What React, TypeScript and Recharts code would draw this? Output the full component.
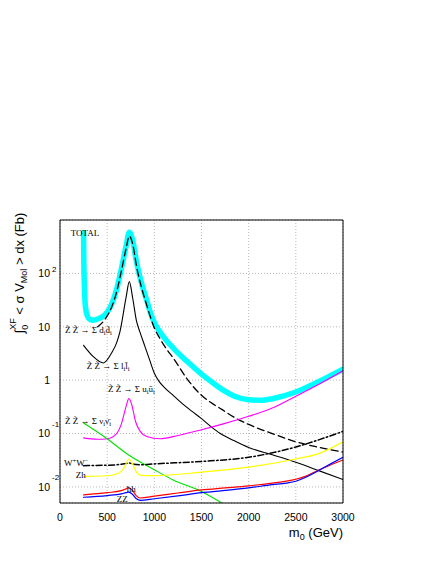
import React from 'react';
import { LineChart, Line, XAxis, YAxis, CartesianGrid, ReferenceDot } from 'recharts';

// m0 (GeV) , integral of <sigma v> (fb)
const total: [number, number][] = [
  [250, 580], [251, 330], [253, 150], [257, 70], [263, 35], [272, 22], [290, 16], [318, 13.7],
  [350, 13.3], [400, 14], [480, 17], [550, 27], [600, 50], [650, 120], [700, 320], [735, 590],
  [770, 420], [812, 160], [870, 60], [918, 32], [960, 18], [1000, 12], [1060, 8], [1130, 5.5],
  [1200, 4.0], [1340, 2.3], [1500, 1.3], [1600, 0.95], [1730, 0.65], [1850, 0.5], [2000, 0.43],
  [2125, 0.42], [2250, 0.45], [2500, 0.6], [2750, 0.95], [3000, 1.6],
];
const dd: [number, number][] = [
  [400, 10], [480, 14], [550, 24], [600, 45], [650, 110], [700, 290], [735, 500], [770, 360],
  [812, 135], [870, 50], [918, 26], [960, 15], [1000, 9.5], [1060, 6], [1130, 3.8], [1200, 2.6],
  [1340, 1.1], [1500, 0.52], [1600, 0.38], [1720, 0.28], [1850, 0.2], [2000, 0.148], [2250, 0.1],
  [2500, 0.07], [2750, 0.055], [3000, 0.045],
];
const ll: [number, number][] = [
  [250, 4.5], [350, 2.8], [460, 2.1], [550, 3.3], [600, 5], [635, 8], [700, 35], [735, 70],
  [770, 35], [810, 13], [847, 8], [900, 4.3], [950, 2.4], [1000, 1.35], [1050, 0.95], [1100, 0.75],
  [1200, 0.52], [1300, 0.36], [1400, 0.26], [1500, 0.19], [1600, 0.135], [1700, 0.1], [1850, 0.073],
  [2000, 0.055], [2250, 0.04], [2500, 0.029], [2750, 0.02], [3000, 0.0138],
];
const uu: [number, number][] = [
  [250, 0.083], [400, 0.078], [500, 0.08], [600, 0.1], [650, 0.15], [700, 0.32], [730, 0.45],
  [760, 0.35], [800, 0.17], [850, 0.11], [920, 0.088], [1060, 0.08], [1250, 0.092], [1500, 0.118],
  [1750, 0.155], [2000, 0.21], [2250, 0.3], [2500, 0.5], [2750, 0.85], [3000, 1.5],
];
const nunu: [number, number][] = [
  [250, 0.158], [500, 0.08], [724, 0.04], [1000, 0.021], [1200, 0.0135], [1500, 0.0082], [1715, 0.005],
];
const ww: [number, number][] = [
  [250, 0.025], [600, 0.026], [700, 0.0275], [735, 0.028], [780, 0.0265], [850, 0.026],
  [1000, 0.027], [1500, 0.03], [2000, 0.036], [2500, 0.056], [2750, 0.077], [3000, 0.11],
];
const zh: [number, number][] = [
  [250, 0.0158], [500, 0.0162], [620, 0.018], [680, 0.023], [730, 0.033], [770, 0.027],
  [810, 0.019], [860, 0.0165], [1000, 0.0163], [1500, 0.0189], [2000, 0.0234], [2500, 0.0334],
  [2750, 0.0425], [3000, 0.07],
];
const hh: [number, number][] = [
  [250, 0.0071], [500, 0.0078], [650, 0.0085], [700, 0.0092], [730, 0.0097], [770, 0.0085],
  [810, 0.0068], [850, 0.0062], [1000, 0.0067], [1250, 0.0077], [1500, 0.0088], [1750, 0.0096],
  [2000, 0.0105], [2250, 0.0118], [2400, 0.0128], [2500, 0.0139], [2600, 0.0158], [2700, 0.019],
  [2850, 0.025], [3000, 0.032],
];
const zz: [number, number][] = [
  [250, 0.0064], [500, 0.0069], [650, 0.0074], [700, 0.0078], [730, 0.008], [770, 0.0072],
  [810, 0.006], [850, 0.0056], [1000, 0.006], [1250, 0.0068], [1500, 0.0078], [1750, 0.0086],
  [2000, 0.0096], [2250, 0.011], [2400, 0.0118], [2500, 0.0128], [2600, 0.015], [2700, 0.0185],
  [2850, 0.026], [3000, 0.036],
];

const xMajor = [0, 500, 1000, 1500, 2000, 2500, 3000];
const yMajor = [0.01, 0.1, 1, 10, 100];

const xMinor: number[] = [];
for (let m = 100; m < 3000; m += 100) if (m % 500) xMinor.push(m);
const yMinor: number[] = [];
for (let e = -3; e <= 2; e++) for (let k = 2; k <= 9; k++) {
  const v = +(k * Math.pow(10, e)).toPrecision(3);
  if (v > 0.005 && v < 1000) yMinor.push(v);
}

const SANS = '"Liberation Sans", Arial, sans-serif';
const SERIF = '"Liberation Serif", "Times New Roman", serif';

type Part = [string, 'n' | 'sub' | 'sup'];
const zt = 'Z\u0303';
// curve labels: where they sit (m0, value) and their text pieces
const tags: { m: number; v: number; parts: Part[] }[] = [
  { m: 113, v: 494, parts: [['TOTAL', 'n']] },
  { m: 53, v: 7.8, parts: [[`${zt} ${zt} \u2192 \u03a3 d`, 'n'], ['i', 'sub'], ['d\u0304', 'n'], ['i', 'sub']] },
  { m: 283, v: 1.63, parts: [[`${zt} ${zt} \u2192 \u03a3 l`, 'n'], ['i', 'sub'], ['l\u0304', 'n'], ['i', 'sub']] },
  { m: 508, v: 0.593, parts: [[`${zt} ${zt} \u2192 \u03a3 u`, 'n'], ['i', 'sub'], ['u\u0304', 'n'], ['i', 'sub']] },
  { m: 53, v: 0.153, parts: [[`${zt} ${zt} \u2192 \u03a3 \u03bd`, 'n'], ['i', 'sub'], ['\u03bd\u0304', 'n'], ['i', 'sub']] },
  { m: 42, v: 0.0244, parts: [['W', 'n'], ['+', 'sup'], ['W', 'n'], ['\u2212', 'sup']] },
  { m: 166, v: 0.0149, parts: [['Zh', 'n']] },
  { m: 707, v: 0.00813, parts: [['hh', 'n']] },
  { m: 601, v: 0.00512, parts: [['ZZ', 'n']] },
];

const pts = (a: [number, number][]) => a.map(([m, v]) => ({ m, v }));

const renderTag = (parts: Part[]) => (props: any) => {
  const vb = props.viewBox || props;
  const x = vb.x + (vb.width || 0) / 2;
  const y = vb.y + (vb.height || 0) / 2;
  let cur = 0;
  return (
    <text x={x} y={y} fontFamily={SERIF} fontSize={9} fill="#000">
      {parts.map(([t, k], i) => {
        const want = k === 'sub' ? 2 : k === 'sup' ? -3.5 : 0;
        const dy = want - cur;
        cur = want;
        return (
          <tspan key={i} dy={dy} fontSize={k === 'n' ? 9 : 6.5}>{t}</tspan>
        );
      })}
    </text>
  );
};

const XTick = (p: any) => (
  <text x={p.x} y={p.y} dy={8} textAnchor="middle" fontFamily={SANS} fontSize={10.5} fill="#000">
    {p.payload.value}
  </text>
);

const YTick = (p: any) => {
  const v = p.payload.value;
  const e = Math.round(Math.log10(v));
  const base = e === 0 ? '1' : '10';
  const sup = e >= 2 || e < 0 ? String(e) : '';
  return (
    <g>
      <text x={p.x} y={p.y} dy={3.8} textAnchor="end" fontFamily={SANS} fontSize={10.5} fill="#000">{base}</text>
      {sup && (
        <text x={p.x + 2} y={p.y} dy={e < 0 ? -7 : -1} fontFamily={SANS} fontSize={8} fill="#000">{sup}</text>
      )}
    </g>
  );
};

const XTitle = (props: any) => {
  const vb = props.viewBox;
  return (
    <text x={vb.x + vb.width} y={vb.y + 34} textAnchor="end" fontFamily={SANS} fontSize={13} fill="#000">
      <tspan>m</tspan>
      <tspan fontSize={9} dy={3}>0</tspan>
      <tspan dy={-3}> (GeV)</tspan>
    </text>
  );
};

const YTitle = (props: any) => {
  const vb = props.viewBox;
  const cx = vb.x + 16;
  const cy = vb.y + 53;
  return (
    <text x={cx} y={cy} transform={`rotate(-90 ${cx} ${cy})`} textAnchor="middle" fontFamily={SANS} fontSize={13} fill="#000">
      <tspan>{'\u222b'}</tspan>
      <tspan fontSize={9} dy={4}>0</tspan>
      <tspan fontSize={9} dx={-5} dy={-12}>XF</tspan>
      <tspan dy={8}>{' < \u03c3 V'}</tspan>
      <tspan fontSize={9} dy={3}>Mol</tspan>
      <tspan dy={-3}>{' > dx (Fb)'}</tspan>
    </text>
  );
};

const series: { d: [number, number][]; c: string; w: number; dash?: string }[] = [
  { d: total, c: '#00ffff', w: 5.5 },
  { d: dd, c: '#000000', w: 1.3, dash: '7 4' },
  { d: ll, c: '#000000', w: 1.1 },
  { d: uu, c: '#ff00ff', w: 1.1 },
  { d: nunu, c: '#00e000', w: 1.1 },
  { d: ww, c: '#000000', w: 1.5, dash: '6 2.5 1.5 2.5' },
  { d: zh, c: '#ffff00', w: 1.2 },
  { d: hh, c: '#ff0000', w: 1.2 },
  { d: zz, c: '#0000ff', w: 1.2 },
];

export default function App() {
  const ax = { type: 'number' as const, allowDataOverflow: true };
  const xDom: [number, number] = [0, 3000];
  const yDom: [number, number] = [0.005, 1000];
  return (
    <div style={{ width: 420, height: 548 }}>
      <LineChart width={420} height={548} margin={{ top: 212, right: 85, bottom: 23, left: 0 }}>
        <CartesianGrid stroke="#b8b8b8" strokeDasharray="1 2" />
        <XAxis {...ax} dataKey="m" domain={xDom} ticks={xMajor} tickLine={false} tickSize={0}
          tickMargin={10} tick={XTick} axisLine={{ stroke: '#000' }} height={30} label={XTitle} />
        <XAxis {...ax} xAxisId="bMaj" domain={xDom} ticks={xMajor} mirror tick={false} tickSize={7}
          axisLine={false} height={1} tickLine={{ stroke: '#000' }} />
        <XAxis {...ax} xAxisId="bMin" domain={xDom} ticks={xMinor} mirror tick={false} tickSize={3.5}
          axisLine={false} height={1} tickLine={{ stroke: '#000' }} />
        <XAxis {...ax} xAxisId="tMaj" orientation="top" domain={xDom} ticks={xMajor} mirror tick={false}
          tickSize={7} axisLine={{ stroke: '#000' }} height={1} tickLine={{ stroke: '#000' }} />
        <XAxis {...ax} xAxisId="tMin" orientation="top" domain={xDom} ticks={xMinor} mirror tick={false}
          tickSize={3.5} axisLine={false} height={1} tickLine={{ stroke: '#000' }} />
        <YAxis {...ax} scale="log" domain={yDom} ticks={yMajor} tickLine={false} tickSize={0}
          tickMargin={10} tick={YTick} axisLine={{ stroke: '#000' }} width={52} label={YTitle} />
        <YAxis {...ax} yAxisId="lMaj" scale="log" domain={yDom} ticks={yMajor} mirror tick={false}
          tickSize={7} axisLine={false} width={1} tickLine={{ stroke: '#000' }} />
        <YAxis {...ax} yAxisId="lMin" scale="log" domain={yDom} ticks={yMinor} mirror tick={false}
          tickSize={3.5} axisLine={false} width={1} tickLine={{ stroke: '#000' }} />
        <YAxis {...ax} yAxisId="rMaj" orientation="right" scale="log" domain={yDom} ticks={yMajor} mirror
          tick={false} tickSize={7} axisLine={{ stroke: '#000' }} width={1} tickLine={{ stroke: '#000' }} />
        <YAxis {...ax} yAxisId="rMin" orientation="right" scale="log" domain={yDom} ticks={yMinor} mirror
          tick={false} tickSize={3.5} axisLine={false} width={1} tickLine={{ stroke: '#000' }} />
        {series.map((s, i) => (
          <Line key={i} data={pts(s.d)} dataKey="v" type="monotone" stroke={s.c} strokeWidth={s.w}
            strokeDasharray={s.dash} strokeLinecap="round" dot={false} activeDot={false}
            isAnimationActive={false} />
        ))}
        {tags.map((t, i) => (
          <ReferenceDot key={i} x={t.m} y={t.v} r={0} fill="none" stroke="none" label={renderTag(t.parts)} />
        ))}
      </LineChart>
    </div>
  );
}
